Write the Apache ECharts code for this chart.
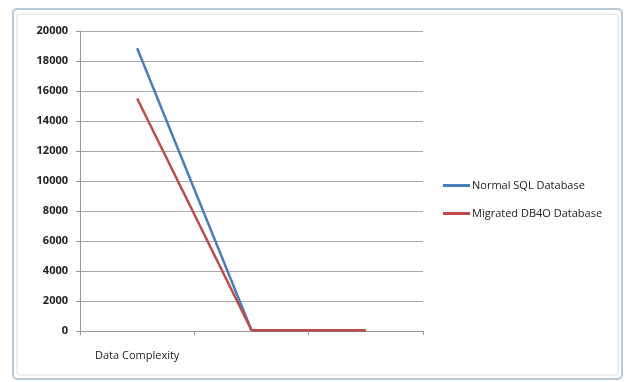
<!DOCTYPE html>
<html><head><meta charset="utf-8">
<script src="https://cdn.jsdelivr.net/npm/echarts@6/dist/echarts.min.js"></script>
<style>html,body{margin:0;padding:0;background:#fff}#c{width:632px;height:382px}</style>
</head><body><div id="c"></div>
<script>
var categories = ['Data Complexity', '', ''];
var normalSQL = [18850, 50, 50];
var migratedDB4O = [15500, 50, 50];
var yTicks = {min: 0, max: 20000, interval: 2000};

var chart = echarts.init(document.getElementById('c'), null, {renderer: 'canvas'});
chart.setOption({
  animation: false,
  backgroundColor: '#ffffff',
  graphic: [
    {type: 'rect', shape: {x: 13, y: 9, width: 609, height: 370, r: 4}, style: {fill: 'none', stroke: '#b9c9d6', lineWidth: 2}, z: -1},
    {type: 'rect', shape: {x: 17, y: 14, width: 601, height: 361, r: 3}, style: {fill: 'none', stroke: '#d6dde3', lineWidth: 1}, z: -1}
  ],
  grid: {left: 80, right: 209, top: 31, bottom: 51},
  legend: {
    orient: 'vertical', left: 443, top: 180, padding: 0, itemWidth: 27, itemHeight: 3, itemGap: 17,
    icon: 'rect',
    textStyle: {fontFamily: 'Open Sans, Liberation Sans, sans-serif', fontSize: 11, color: '#222', padding: [0, 0, 0, -3]},
    data: ['Normal SQL Database', 'Migrated DB4O Database']
  },
  xAxis: {
    type: 'category', data: categories, boundaryGap: true,
    axisLine: {lineStyle: {color: '#999', width: 1}},
    axisTick: {show: true, length: 4, lineStyle: {color: '#999'}},
    axisLabel: {margin: 19, fontFamily: 'Open Sans, Liberation Sans, sans-serif', fontSize: 11, color: '#222'}
  },
  yAxis: {
    type: 'value', min: yTicks.min, max: yTicks.max, interval: yTicks.interval,
    axisLine: {show: true, lineStyle: {color: '#999'}},
    axisTick: {show: true, length: 4, lineStyle: {color: '#999'}},
    splitLine: {lineStyle: {color: '#a8a8a8', width: 1.2}},
    axisLabel: {margin: 12, formatter: function (v) { return String(v); }, fontFamily: 'Open Sans, Liberation Sans, sans-serif', fontSize: 11, fontWeight: 'bold', color: '#222'}
  },
  series: [
    {name: 'Normal SQL Database', type: 'line', data: normalSQL, symbol: 'none', lineStyle: {color: '#4a7ebb', width: 2.5}, itemStyle: {color: '#4a7ebb'}},
    {name: 'Migrated DB4O Database', type: 'line', data: migratedDB4O, symbol: 'none', lineStyle: {color: '#be4b48', width: 2.5}, itemStyle: {color: '#be4b48'}}
  ]
});
</script></body></html>
